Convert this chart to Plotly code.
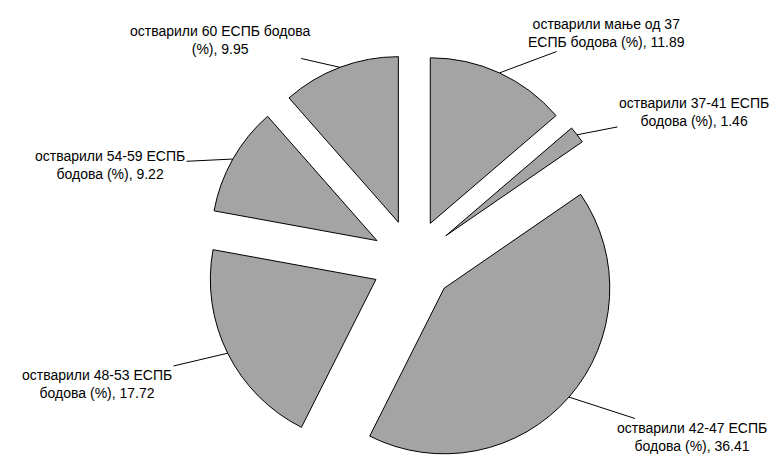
import math

import plotly.graph_objects as go

# slice data, clockwise from 12 o'clock
labels = [
    "остварили мање од 37<br>ЕСПБ бодова (%), 11.89",
    "остварили 37-41 ЕСПБ<br>бодова (%), 1.46",
    "остварили 42-47 ЕСПБ<br>бодова (%), 36.41",
    "остварили 48-53 ЕСПБ<br>бодова (%), 17.72",
    "остварили 54-59 ЕСПБ<br>бодова (%), 9.22",
    "остварили 60 ЕСПБ бодова<br>(%), 9.95",
]
values = [11.89, 1.46, 36.41, 17.72, 9.22, 9.95]

W, H = 778, 460
PULL = 0.25
DOM_X = [0.2, 0.8411]
DOM_Y = [0.0, 0.9]

# where each label's text block sits (pixels, centre of block)
label_pos = [(598, 25), (686, 104), (684, 429), (89, 376), (102, 157), (212, 32)]

fig = go.Figure(
    go.Pie(
        labels=labels,
        values=values,
        sort=False,
        direction="clockwise",
        rotation=0,
        pull=[PULL] * len(values),
        textinfo="none",
        hoverinfo="skip",
        marker=dict(colors=["#a4a4a4"] * len(values), line=dict(color="#000000", width=1)),
        domain=dict(x=DOM_X, y=DOM_Y),
    )
)

# pie geometry as plotly lays it out, to find the outer mid-point of each slice
box_w = W * (DOM_X[1] - DOM_X[0])
box_h = H * (DOM_Y[1] - DOM_Y[0])
r = min(box_w, box_h) / (2 + 2 * PULL)
cx = W * (DOM_X[0] + DOM_X[1]) / 2
cy = H * (2 - DOM_Y[0] - DOM_Y[1]) / 2
total = sum(values)

cum = 0.0
for lab, v, (lx, ly) in zip(labels, values, label_pos):
    mid = (cum + v / 2) / total * 2 * math.pi
    cum += v
    px = cx + r * (1 + PULL) * math.sin(mid)
    py = cy - r * (1 + PULL) * math.cos(mid)
    fig.add_annotation(
        x=px / W, y=1 - py / H, xref="paper", yref="paper",
        text=lab, showarrow=True, arrowhead=0, arrowwidth=1, arrowcolor="#000000",
        ax=lx - px, ay=ly - py, standoff=0, align="center",
        font=dict(family="Arial, Liberation Sans, sans-serif", size=14, color="#000000"),
    )

fig.update_layout(
    width=W, height=H,
    margin=dict(l=0, r=0, t=0, b=0),
    showlegend=False,
    paper_bgcolor="#ffffff",
    plot_bgcolor="#ffffff",
)
fig.write_html("out.html")
